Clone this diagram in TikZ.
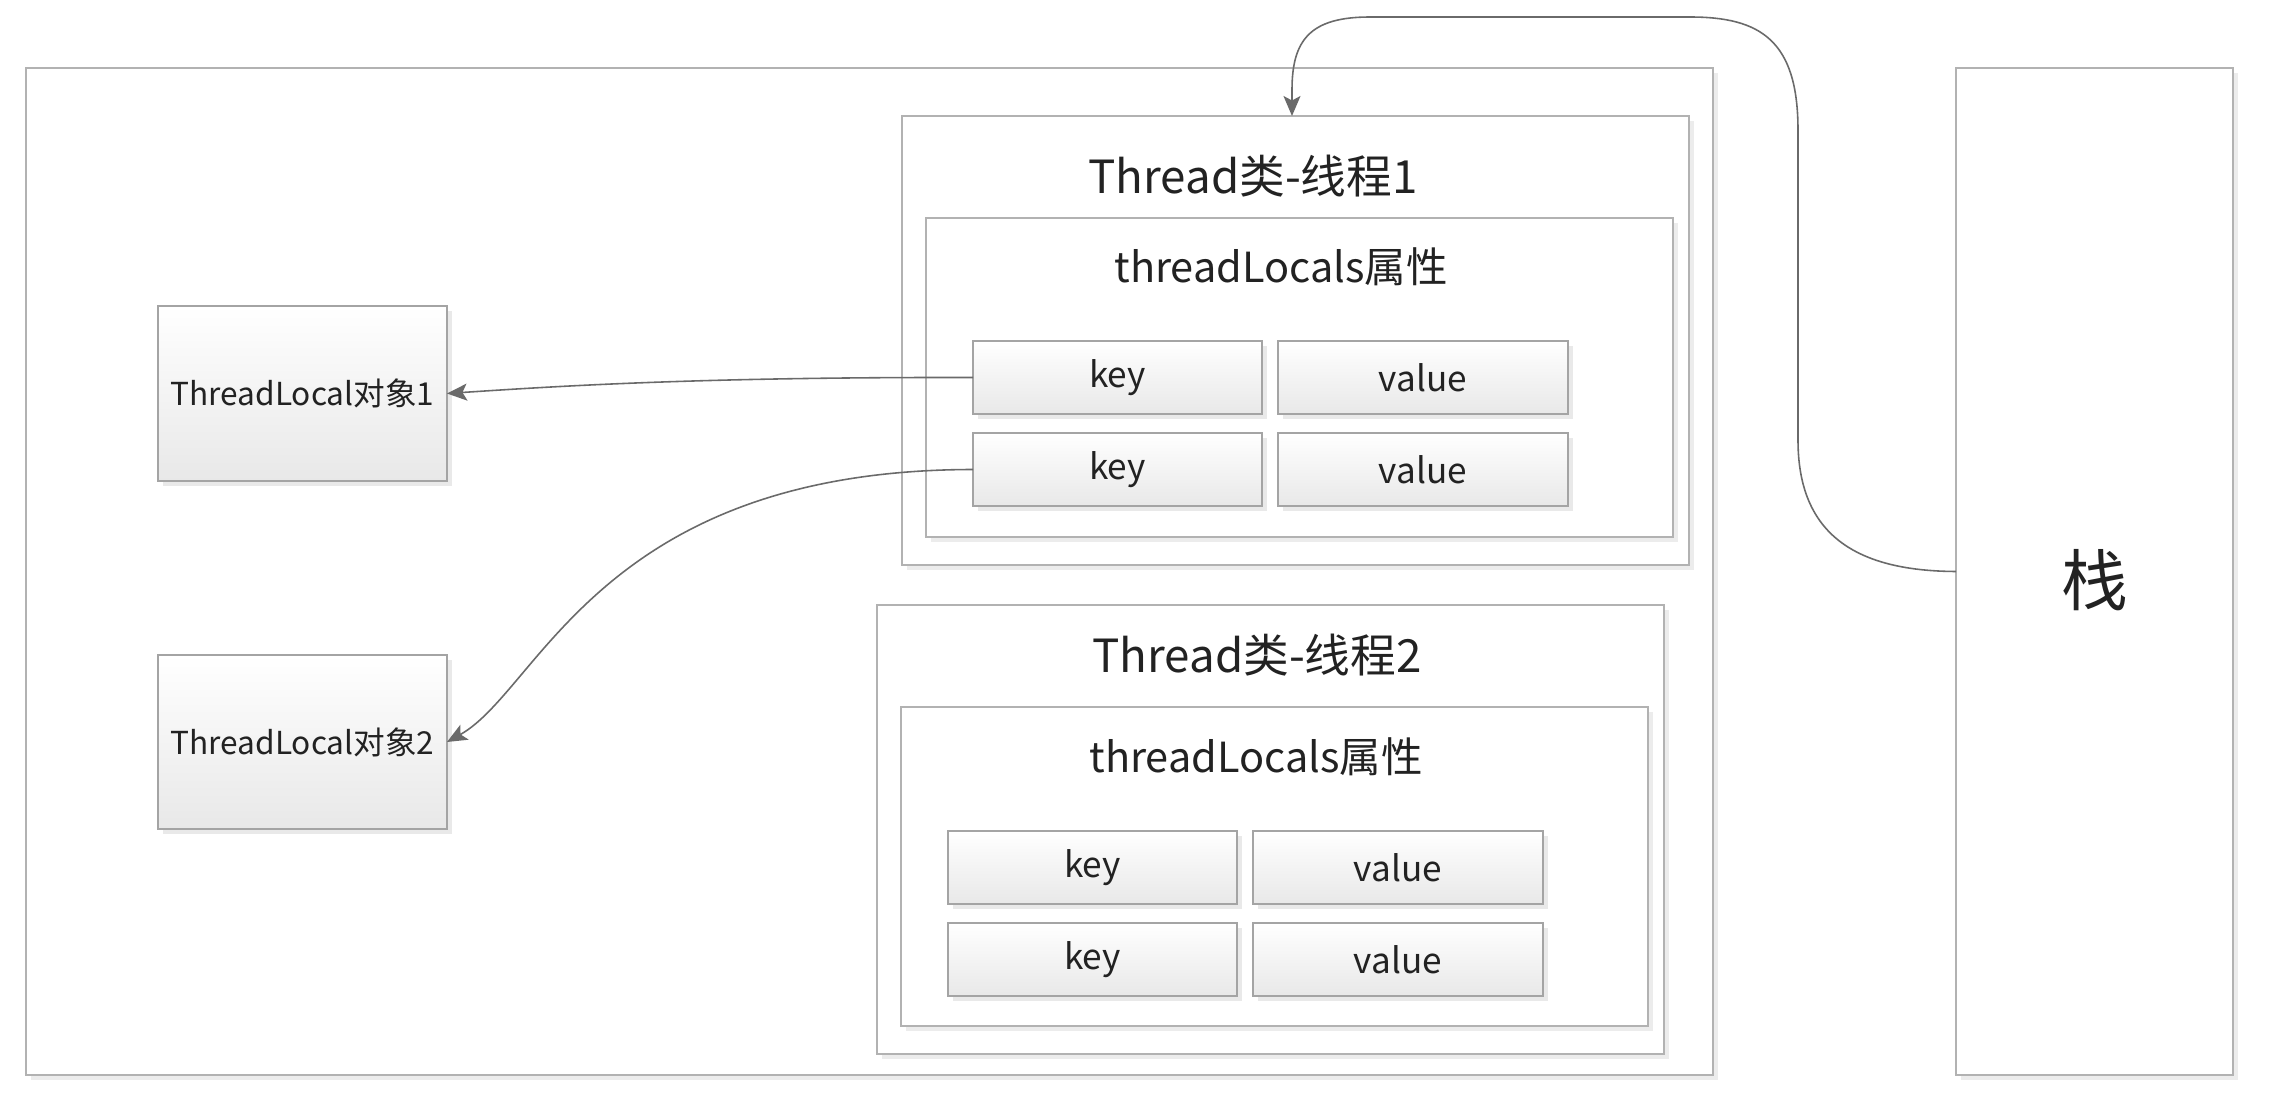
\documentclass[tikz,border=0pt]{standalone}
\usepackage{fontspec}
\setmainfont{Noto Sans CJK SC}
\usetikzlibrary{arrows.meta,shadows}
\definecolor{bordc}{HTML}{A4A4A4}
\definecolor{outc}{HTML}{B2B2B2}
\definecolor{linec}{HTML}{6A6A6A}
\definecolor{txtc}{HTML}{222222}
\begin{document}
\begin{tikzpicture}[x=0.1mm,y=-0.1mm,
  frame/.style={draw=outc, line width=0.7pt, fill=white, anchor=north west, inner sep=0pt, outer sep=0pt,
    drop shadow={shadow xshift=0.5mm, shadow yshift=-0.5mm, fill=black!12, opacity=0.6}},
  cell/.style={draw=bordc, line width=0.7pt, top color=white, bottom color=black!9, anchor=north west,
    inner sep=0pt, outer sep=0pt, text=txtc, font=\fontsize{10}{12}\selectfont,
    drop shadow={shadow xshift=0.5mm, shadow yshift=-0.5mm, fill=black!14, opacity=0.6}},
  objcell/.style={cell, font=\fontsize{9}{11}\selectfont},
  title/.style={text=txtc, font=\fontsize{13}{15}\selectfont, inner sep=0pt},
  subtitle/.style={text=txtc, font=\fontsize{11.8}{14}\selectfont, inner sep=0pt},
  conn/.style={draw=linec, line width=0.45pt, -{Stealth[length=2mm,width=1.7mm,inset=0.45mm]}}]
\useasboundingbox[fill=white] (0,0) rectangle (2277,1099);

% outer frames
\node[frame, minimum width=168.7mm, minimum height=100.7mm] (outer) at (26,68) {};
\node[frame, minimum width=27.7mm, minimum height=100.7mm] (stack) at (1956,68) {};
\node[text=txtc, font=\fontsize{19}{22}\selectfont, inner sep=0pt] (stacklbl) at (2095,580) {栈};

% Thread 1
\node[frame, minimum width=78.7mm, minimum height=44.9mm] (t1) at (902,116) {};
\node[title] (t1title) at (1253,176) {Thread类-线程1};
\node[frame, minimum width=74.7mm, minimum height=31.9mm] (tl1) at (926,218) {};
\node[subtitle] (tl1title) at (1281,267) {threadLocals属性};
\node[cell, minimum width=28.9mm, minimum height=7.3mm] (k1a) at (973,341) {key};
\node[cell, minimum width=29.0mm, minimum height=7.3mm] (v1a) at (1278,341) {value};
\node[cell, minimum width=28.9mm, minimum height=7.3mm] (k1b) at (973,433) {key};
\node[cell, minimum width=29.0mm, minimum height=7.3mm] (v1b) at (1278,433) {value};

% Thread 2
\node[frame, minimum width=78.7mm, minimum height=44.9mm] (t2) at (877,605) {};
\node[title] (t2title) at (1257,655) {Thread类-线程2};
\node[frame, minimum width=74.7mm, minimum height=31.9mm] (tl2) at (901,707) {};
\node[subtitle] (tl2title) at (1256,757) {threadLocals属性};
\node[cell, minimum width=28.9mm, minimum height=7.3mm] (k2a) at (948,831) {key};
\node[cell, minimum width=29.0mm, minimum height=7.3mm] (v2a) at (1253,831) {value};
\node[cell, minimum width=28.9mm, minimum height=7.3mm] (k2b) at (948,923) {key};
\node[cell, minimum width=29.0mm, minimum height=7.3mm] (v2b) at (1253,923) {value};

% ThreadLocal objects
\node[objcell, minimum width=28.9mm, minimum height=17.5mm] (obj1) at (158,306) {ThreadLocal对象1};
\node[objcell, minimum width=28.9mm, minimum height=17.4mm] (obj2) at (158,655) {ThreadLocal对象2};

% connectors
\draw[conn] (k1a.west) .. controls (700,377) and (560,386) .. (obj1.east);
\draw[conn] (k1b.west) .. controls (600,470) and (540,690) .. (obj2.east);
\draw[conn] (stack.west) .. controls (1850,571) and (1798,530) .. (1798,440) -- (1798,130)
  .. controls (1798,40) and (1760,17) .. (1690,17) -- (1370,17)
  .. controls (1310,17) and (1292,40) .. (1292,90) -- ([xshift=39mm]t1.north west);
\end{tikzpicture}
\end{document}
